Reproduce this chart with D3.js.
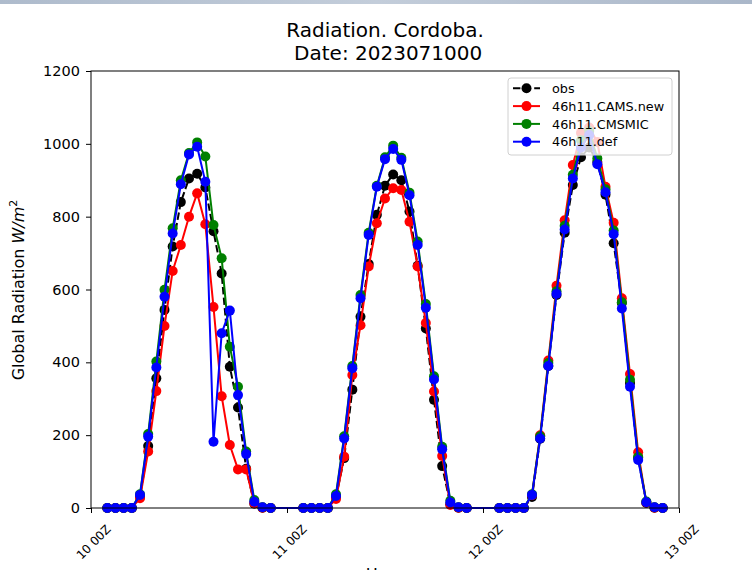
<!DOCTYPE html>
<html><head><meta charset="utf-8">
<script src="https://cdn.jsdelivr.net/npm/d3@7/dist/d3.min.js"></script>
<style>body{margin:0;background:#fff} svg{display:block} text{font-family:"DejaVu Sans",sans-serif;fill:#000}</style>
</head><body><svg id="c" width="752" height="570"></svg>
<script>
// ---- data ----
const days = [10, 11, 12];
const hoursOfDay = [2,3,4,5,6,7,8,9,10,11,12,13,14,15,16,17,18,19,20,21,22];
const xTickDays = [10, 11, 12, 13];
const xTickLabels = ["10 00Z", "11 00Z", "12 00Z", "13 00Z"];
const yTicks = [0, 200, 400, 600, 800, 1000, 1200];
const seriesNames = ["obs", "46h11.CAMS.new", "46h11.CMSMIC", "46h11.def"];
const seriesColors = ["#000000", "#ff0000", "#008000", "#0000ff"];
const titleLines = ["Radiation. Cordoba.", " Date: 2023071000"];

const obs = [
  0,0,0,0, 30,170,356,544,718,840,905,918,880,760,644,388,276,108,12,1,0,
  0,0,0,0, 30,137,325,525,670,805,885,916,900,814,665,493,297,115,10,1,0,
  0,0,0,0, 30,190,390,585,756,887,963,990,950,860,727,563,343,138,14,1,0
];
const camsNew = [
  0,0,0,0, 27,155,321,500,651,722,800,864,779,552,307,173,106,106,13,1,0,
  0,0,0,0, 25,141,365,502,663,782,850,878,873,786,663,508,320,143,8,1,0,
  0,0,0,0, 35,200,405,610,790,942,1030,1045,1005,882,783,576,368,153,15,1,0
];
const cmsmic = [
  0,0,0,0, 38,203,402,599,768,900,975,1004,965,777,686,443,333,155,22,2,0,
  0,0,0,0, 38,197,390,585,756,885,963,995,962,866,732,560,362,168,20,2,0,
  0,0,0,0, 38,197,398,595,775,915,1010,1035,960,875,762,565,352,140,18,2,0
];
const def = [
  0,0,0,0, 36,196,386,580,754,889,971,992,896,182,480,542,310,148,17,2,0,
  0,0,0,0, 33,191,384,576,750,882,958,986,956,859,722,550,353,161,15,2,0,
  0,0,0,0, 36,191,390,588,765,905,990,1024,944,867,752,548,333,132,16,2,0
];

// ---- build ----
const times = [];
days.forEach(d => hoursOfDay.forEach(h => times.push(new Date(Date.UTC(2023, 6, d, h)))));
const allSeries = [obs, camsNew, cmsmic, def];

const svg = d3.select("#c");
const L = 91, R = 679, T = 71, B = 508;

const x = d3.scaleUtc()
  .domain([new Date(Date.UTC(2023,6,10)), new Date(Date.UTC(2023,6,13))])
  .range([L, R]);
const y = d3.scaleLinear().domain([0, 1200]).range([B, T]);

// top decorative band
const grad = svg.append("defs").append("linearGradient").attr("id","band");
grad.append("stop").attr("offset","0%").attr("stop-color","#aebbcc");
grad.append("stop").attr("offset","50%").attr("stop-color","#c3cdda");
grad.append("stop").attr("offset","100%").attr("stop-color","#aab7c9");
svg.append("rect").attr("x",0).attr("y",0).attr("width",752).attr("height",4).attr("fill","url(#band)");

// title
svg.append("text").attr("x", 385).attr("y", 36.5).attr("text-anchor","middle")
  .style("font-size","20px").text(titleLines[0]);
svg.append("text").attr("x", 385).attr("y", 60).attr("text-anchor","middle")
  .style("font-size","20px").attr("xml:space","preserve").text(titleLines[1]);

// series
const plot = svg.append("g");
allSeries.forEach((vals, i) => {
  const pts = vals.map((v, j) => [times[j], v]);
  const line = d3.line().x(d => x(d[0])).y(d => y(d[1]));
  const g = plot.append("g");
  g.append("path").attr("d", line(pts)).attr("fill","none")
    .attr("stroke", seriesColors[i]).attr("stroke-width", 2)
    .attr("stroke-linejoin","round")
    .attr("stroke-dasharray", i === 0 ? "7.4,3.2" : null);
  g.selectAll("circle").data(pts).join("circle")
    .attr("cx", d => x(d[0])).attr("cy", d => y(d[1])).attr("r", 5)
    .attr("fill", seriesColors[i]);
});

// axes frame
svg.append("rect").attr("x", L).attr("y", T).attr("width", R - L).attr("height", B - T)
  .attr("fill","none").attr("stroke","#000").attr("stroke-width",1);

// y axis
const yAxis = svg.append("g").attr("transform", `translate(${L},0)`)
  .call(d3.axisLeft(y).tickValues(yTicks).tickSize(5).tickPadding(6).tickFormat(d3.format("d")));
yAxis.select(".domain").remove();
yAxis.selectAll("text").style("font-size","14.5px").attr("font-family",null);
yAxis.selectAll("line").attr("stroke","#000");

// x axis
const xTickDates = xTickDays.map(d => new Date(Date.UTC(2023, 6, d)));
const xAxis = svg.append("g").attr("transform", `translate(0,${B})`)
  .call(d3.axisBottom(x).tickValues(xTickDates).tickSize(5)
    .tickFormat((d, i) => xTickLabels[i]));
xAxis.select(".domain").remove();
xAxis.selectAll("line").attr("stroke","#000");
xAxis.selectAll("text")
  .style("font-size","12px").attr("font-family",null)
  .attr("text-anchor","end").attr("dy", null)
  .attr("x", 20).attr("y", 22)
  .attr("transform", "rotate(-45, 20, 22)");

// y label
const yl = svg.append("text").attr("transform","translate(24,290) rotate(-90)")
  .attr("text-anchor","middle").style("font-size","16px");
yl.append("tspan").text("Global Radiation ");
yl.append("tspan").style("font-style","italic").text("W/m");
yl.append("tspan").attr("dy","-7").style("font-size","11px").text("2");

// x label (cut off at bottom edge, as in the reference)
svg.append("text").attr("x", 385).attr("y", 580).attr("text-anchor","middle")
  .style("font-size","16px").text("Hour");

// legend
const lg = svg.append("g");
lg.append("rect").attr("x", 508).attr("y", 78).attr("width", 164).attr("height", 77)
  .attr("rx", 3).attr("fill","#fff").attr("fill-opacity", 0.8)
  .attr("stroke","#d0d0d0").attr("stroke-width",1);
seriesNames.forEach((n, i) => {
  const yy = 88.3 + i * 17.8;
  lg.append("line").attr("x1", 513).attr("x2", 540).attr("y1", yy).attr("y2", yy)
    .attr("stroke", seriesColors[i]).attr("stroke-width", 2)
    .attr("stroke-dasharray", i === 0 ? "7.4,3.2" : null);
  lg.append("circle").attr("cx", 526.5).attr("cy", yy).attr("r", 5).attr("fill", seriesColors[i]);
  lg.append("text").attr("x", 552).attr("y", yy).attr("dy","0.36em")
    .style("font-size","12.8px").text(n);
});
</script></body></html>
